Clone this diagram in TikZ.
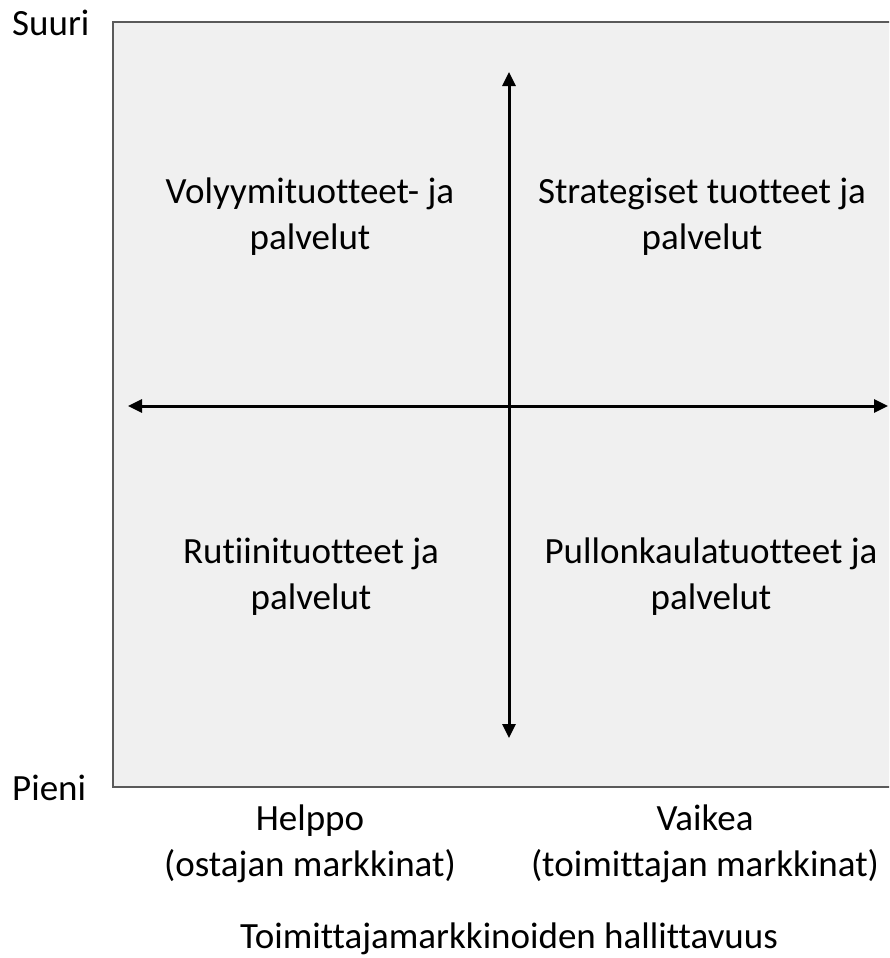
\documentclass[tikz,border=0pt]{standalone}
\usepackage{fontspec}
\setmainfont{Carlito}[Ligatures={NoCommon}]
\usetikzlibrary{arrows.meta}
\definecolor{boxfill}{HTML}{F0F0F0}
\definecolor{boxline}{HTML}{5A5A5A}
\tikzset{
  lbl/.style={inner sep=0pt, align=center, anchor=base, font=\fontsize{37}{46}\selectfont},
  sidelbl/.style={inner sep=0pt, anchor=base west, font=\fontsize{37}{46}\selectfont},
  axis2/.style={line width=3pt, {Triangle[length=14pt,width=13pt]}-{Triangle[length=14pt,width=13pt]}}
}
\begin{document}
\begin{tikzpicture}[x=1pt,y=-1pt]
\useasboundingbox (0,0) rectangle (889,958);
\begin{scope}
\clip (0,0) rectangle (889,958);
\draw[fill=boxfill, draw=boxline, line width=2pt] (113,22) rectangle (897,787);
\end{scope}
\coordinate (L) at (128,406);
\coordinate (R) at (888,406);
\coordinate (T) at (509,72);
\coordinate (B) at (509,738);
\draw[axis2] (L) -- (R);
\draw[axis2] (T) -- (B);
\node[sidelbl] (suuri) at (12,36) {Suuri};
\node[sidelbl] (pieni) at (12,800) {Pieni};
\node[lbl] (q1) at (310,249) {Volyymituotteet- ja\\palvelut};
\node[lbl] (q2) at (702,249) {Strategiset tuotteet ja\\palvelut};
\node[lbl] (q3) at (311,609) {Rutiinituotteet ja\\palvelut};
\node[lbl] (q4) at (711,609) {Pullonkaulatuotteet ja\\palvelut};
\node[lbl] (h1) at (310,876) {Helppo\\(ostajan markkinat)};
\node[lbl] (h2) at (705,876) {Vaikea\\(toimittajan markkinat)};
\node[lbl] (xt) at (509,948) {Toimittajamarkkinoiden hallittavuus};
\end{tikzpicture}
\end{document}
